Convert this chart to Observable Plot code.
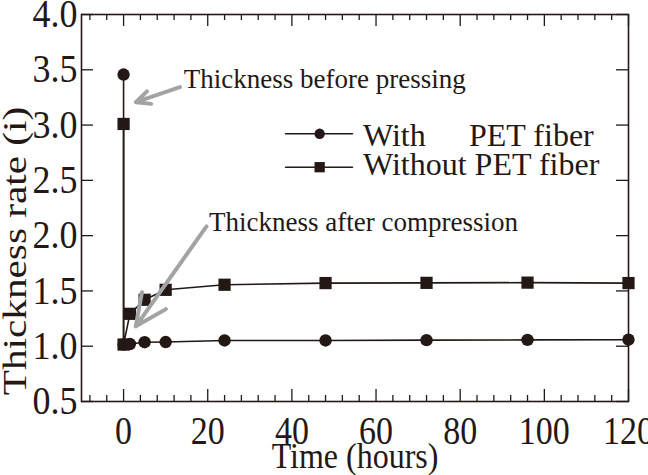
<!DOCTYPE html>
<html><head><meta charset="utf-8">
<script src="https://cdn.jsdelivr.net/npm/d3@7"></script>
<script src="https://cdn.jsdelivr.net/npm/@observablehq/plot@0.6"></script>
<style>body{margin:0;background:#fff}</style>
</head><body><div id="chart"></div>
<script>
// ---- data ----
const hours      = [0, 0, 1.5, 5, 10, 24, 48, 72, 96, 120];
const withPET    = [3.457, 1.015, 1.02, 1.036, 1.038, 1.052, 1.052, 1.055, 1.057, 1.059];
const withoutPET = [3.01, 1.015, 1.293, 1.42, 1.51, 1.556, 1.571, 1.573, 1.575, 1.571];
const seriesNames = ["With", "Without PET fiber"];
const xTicks = [0, 20, 40, 60, 80, 100, 120];
const xMinorTicks = [-8, -4, 4, 8, 12, 16, 24, 28, 32, 36, 44, 48, 52, 56, 64, 68, 72, 76, 84, 88, 92, 96, 104, 108, 112, 116];
const yTicks = [0.5, 1.0, 1.5, 2.0, 2.5, 3.0, 3.5, 4.0];
const yTickLabels = ["0.5", "1.0", "1.5", "2.0", "2.5", "3.0", "3.5", "4.0"];
const xTitle = "Time (hours)";
const yTitle = "Thickness rate (i)";
// annotations (data coordinates)
const noteText = ["Thickness before pressing", "Thickness after compression"];
const noteX = [14.3, 20.3];
const noteY = [3.337, 2.046];
const arrowX1 = [13.4, 19.7], arrowY1 = [3.343, 2.083];
const arrowX2 = [2.9, 2.9],   arrowY2 = [3.207, 1.18];
// legend anchor (data coordinates)
const legX = [38.5, 54.4], legMarkX = 46.6, legY = [2.921, 2.619];
const legTextX = 56.9, legPetX = 82.1, legTextY = [2.815, 2.544];

const ink = "#231815";
const withData = hours.map((h, i) => ({h, v: withPET[i]}));
const withoutData = hours.map((h, i) => ({h, v: withoutPET[i]}));
const notes = noteText.map((t, i) => ({t, x: noteX[i], y: noteY[i]}));
const arrows = arrowX1.map((d, i) => ({x1: d, y1: arrowY1[i], x2: arrowX2[i], y2: arrowY2[i]}));

const W = 648, H = 475, mL = 81, mR = 20, mT = 14, mB = 74;
const innerW = W - mL - mR, innerH = H - mT - mB;
const font = "'Liberation Serif','Times New Roman',serif";

const chart = Plot.plot({
  width: W, height: H,
  marginLeft: mL, marginRight: mR, marginTop: mT, marginBottom: mB,
  style: {fontFamily: font, color: ink, background: "#fff"},
  x: {domain: [-10, 120], label: null, axis: null},
  y: {domain: [0.5, 4.0], label: null, axis: null},
  marks: [
    // ticks (inward)
    Plot.tickX(xTicks, {x: d => d, insetTop: innerH - 12, stroke: ink, strokeWidth: 1.3}),
    Plot.tickX(xTicks, {x: d => d, insetBottom: innerH - 12, stroke: ink, strokeWidth: 1.3}),
    Plot.tickX(xMinorTicks, {x: d => d, insetTop: innerH - 6, stroke: ink, strokeWidth: 1.3}),
    Plot.tickX(xMinorTicks, {x: d => d, insetBottom: innerH - 6, stroke: ink, strokeWidth: 1.3}),
    Plot.tickY(yTicks, {y: d => d, insetRight: innerW - 12, stroke: ink, strokeWidth: 1.3}),
    Plot.tickY(yTicks, {y: d => d, insetLeft: innerW - 12, stroke: ink, strokeWidth: 1.3}),
    // tick labels
    Plot.text(xTicks, {x: d => d, text: d => String(d), frameAnchor: "bottom", dy: 42, lineAnchor: "bottom", textAnchor: "middle", fontSize: 34, fill: ink}),
    Plot.text(yTicks, {y: d => d, text: (d, i) => yTickLabels[i], frameAnchor: "left", dx: -4, lineAnchor: "middle", textAnchor: "end", fontSize: 36, fill: ink}),
    // axis titles
    Plot.text([xTitle], {text: d => d, frameAnchor: "bottom", dy: 66, lineAnchor: "bottom", textAnchor: "middle", fontSize: 32, fill: ink}),
    Plot.text([yTitle], {text: d => d, frameAnchor: "left", dx: -56, dy: 43, rotate: -90, lineAnchor: "bottom", textAnchor: "middle", fontSize: 33, fill: ink}),
    // series
    Plot.line(withData, {x: "h", y: "v", stroke: ink, strokeWidth: 1.6}),
    Plot.line(withoutData, {x: "h", y: "v", stroke: ink, strokeWidth: 1.6}),
    Plot.dot(withData, {x: "h", y: "v", r: 6.2, fill: ink, symbol: "circle"}),
    Plot.dot(withoutData, {x: "h", y: "v", r: 6.9, fill: ink, symbol: "square"}),
    // annotations
    Plot.arrow(arrows, {x1: "x1", y1: "y1", x2: "x2", y2: "y2", stroke: "#a3a3a3", strokeWidth: 4, headLength: 13, headAngle: 50}),
    Plot.text(notes, {x: "x", y: "y", text: "t", textAnchor: "start", lineAnchor: "bottom", fontSize: 27, fill: ink}),
    // legend
    Plot.line([{x: legX[0], y: legY[0]}, {x: legX[1], y: legY[0]}], {x: "x", y: "y", stroke: ink, strokeWidth: 1.6}),
    Plot.line([{x: legX[0], y: legY[1]}, {x: legX[1], y: legY[1]}], {x: "x", y: "y", stroke: ink, strokeWidth: 1.6}),
    Plot.dot([{x: legMarkX, y: legY[0]}], {x: "x", y: "y", r: 5.2, fill: ink, symbol: "circle"}),
    Plot.dot([{x: legMarkX, y: legY[1]}], {x: "x", y: "y", r: 5.8, fill: ink, symbol: "square"}),
    Plot.text([seriesNames[0]], {x: legTextX, y: legTextY[0], text: d => d, textAnchor: "start", lineAnchor: "bottom", fontSize: 32, fill: ink}),
    Plot.text(["PET fiber"], {x: legPetX, y: legTextY[0], text: d => d, textAnchor: "start", lineAnchor: "bottom", fontSize: 32, fill: ink}),
    Plot.text([seriesNames[1]], {x: legTextX, y: legTextY[1], text: d => d, textAnchor: "start", lineAnchor: "bottom", fontSize: 32, fill: ink}),
    Plot.frame({stroke: ink, strokeWidth: 1.6})
  ]
});
// the reference's axis lettering is drawn elongated: stretch it about each text's own anchor
function stretch(strings, sx, sy) {
  const set = new Set(strings);
  chart.querySelectorAll("text").forEach(t => {
    if (!set.has(t.textContent)) return;
    const x = parseFloat(t.getAttribute("x")) || 0;
    const y = parseFloat(t.getAttribute("y")) || 0;
    const tr = t.getAttribute("transform") || "";
    t.setAttribute("transform", `${tr} translate(${x},${y}) scale(${sx},${sy}) translate(${-x},${-y})`);
  });
}
stretch(xTicks.map(String), 1, 1.17);
stretch([xTitle], 1, 1.15);
stretch(yTickLabels, 1, 1.1);
stretch([yTitle], 1.25, 1);
document.getElementById("chart").appendChild(chart);
</script>
</body></html>
